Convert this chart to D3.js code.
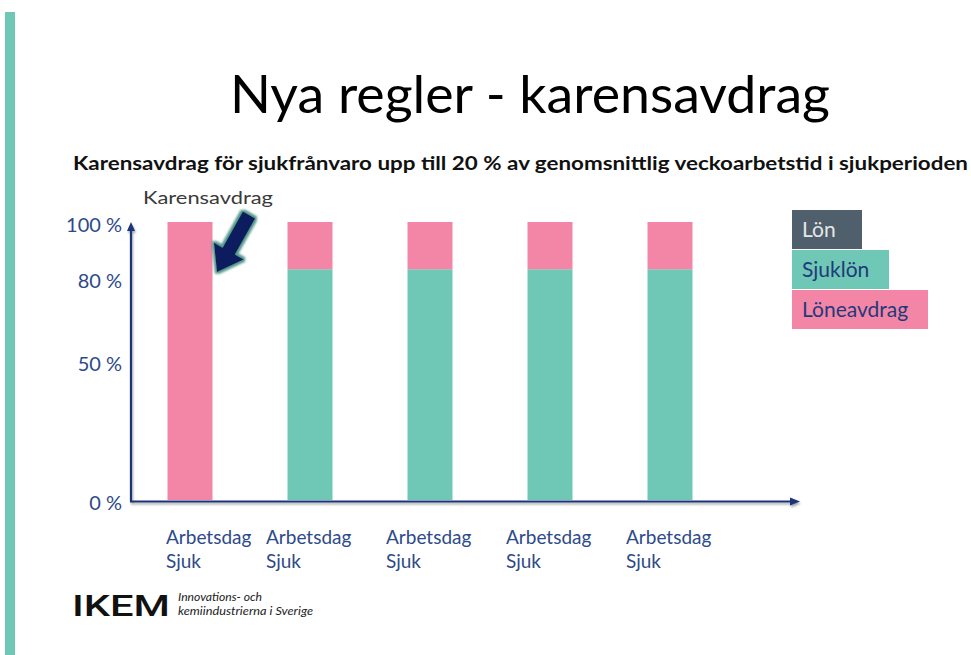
<!DOCTYPE html>
<html><head><meta charset="utf-8">
<script src="https://cdn.jsdelivr.net/npm/d3@7"></script>
<style>body{margin:0;background:#fff}svg{display:block}</style>
</head><body>
<svg id="c" width="971" height="655"></svg>
<script>
// ---- data ----
const days = [1, 2, 3, 4, 5];
const dayLabelLines = ["Arbetsdag", "Sjuk"];
const lon = [0, 0, 0, 0, 0];
const sjuklon = [0, 83, 83, 83, 83];
const loneavdrag = [100, 17, 17, 17, 17];
const yTicks = [0, 50, 80, 100];
const legendLabels = ["Lön", "Sjuklön", "Löneavdrag"];
const seriesColors = ["#4f5f6b", "#6fc8b6", "#f386a7"];
const titleText = "Nya regler - karensavdrag";
const subtitleText = "Karensavdrag för sjukfrånvaro upp till  20 % av genomsnittlig veckoarbetstid i sjukperioden";
const calloutText = "Karensavdrag";

const svg = d3.select("#c");
const font = "Lato, 'Open Sans', sans-serif";
const navy = "#1c3578";
const labelNavy = "#2d4a8a";

// left strip
svg.append("rect").attr("x", 5).attr("y", 12).attr("width", 10).attr("height", 643).attr("fill", "#6fc8b6");

// title
svg.append("text").attr("x", 530).attr("y", 113).attr("text-anchor", "middle")
  .attr("font-family", font).attr("font-size", 52).attr("fill", "#000")
  .attr("textLength", 600).attr("lengthAdjust", "spacingAndGlyphs").text(titleText);

svg.append("text").attr("x", 73).attr("y", 170)
  .attr("font-family", font).attr("font-weight", "bold").attr("font-size", 18).attr("fill", "#111")
  .attr("textLength", 895).attr("lengthAdjust", "spacingAndGlyphs").text(subtitleText);

// scales
const x = d3.scalePoint().domain(days).range([190, 670]);
const y = d3.scaleLinear().domain([0, 100]).range([500, 222]);
const bw = 45;

const defs = svg.append("defs");
const sh = defs.append("filter").attr("id", "sh").attr("x", "-20%").attr("y", "-20%").attr("width", "140%").attr("height", "140%");
sh.append("feGaussianBlur").attr("in", "SourceAlpha").attr("stdDeviation", 1.2).attr("result", "b");
sh.append("feOffset").attr("dx", 1).attr("dy", 1.5).attr("result", "o");
sh.append("feComponentTransfer").append("feFuncA").attr("type", "linear").attr("slope", 0.35);
const m = sh.append("feMerge"); m.append("feMergeNode"); m.append("feMergeNode").attr("in", "SourceGraphic");

const glow = defs.append("filter").attr("id", "glow").attr("x", "-30%").attr("y", "-30%").attr("width", "160%").attr("height", "160%");
glow.append("feMorphology").attr("in", "SourceAlpha").attr("operator", "dilate").attr("radius", 2).attr("result", "d");
glow.append("feGaussianBlur").attr("in", "d").attr("stdDeviation", 1).attr("result", "db");
glow.append("feFlood").attr("flood-color", "#3f8c7c").attr("flood-opacity", 0.9);
glow.append("feComposite").attr("in2", "db").attr("operator", "in").attr("result", "g");
const gm = glow.append("feMerge"); gm.append("feMergeNode").attr("in", "g"); gm.append("feMergeNode").attr("in", "SourceGraphic");

// stacked bars
const rows = days.map((d, i) => ({ day: d, lon: lon[i], sjuklon: sjuklon[i], loneavdrag: loneavdrag[i] }));
const stack = d3.stack().keys(["sjuklon", "lon", "loneavdrag"])(rows);
const colorOf = { lon: seriesColors[0], sjuklon: seriesColors[1], loneavdrag: seriesColors[2] };
svg.append("g").selectAll("g").data(stack).join("g").attr("fill", s => colorOf[s.key])
  .selectAll("rect").data(s => s).join("rect")
  .attr("x", d => x(d.data.day) - bw / 2).attr("width", bw)
  .attr("y", d => y(d[1])).attr("height", d => Math.max(0, y(d[0]) - y(d[1])));

// axes
const axG = svg.append("g").attr("filter", "url(#sh)");
const x0 = 131, yb = y(0) + 1.5;
axG.append("line").attr("x1", x0).attr("y1", yb).attr("x2", x0).attr("y2", 230).attr("stroke", navy).attr("stroke-width", 2.2);
axG.append("path").attr("d", `M${x0},222 L${x0 - 4},231 L${x0 + 4},231 Z`).attr("fill", navy);
axG.append("line").attr("x1", x0 - 1).attr("y1", yb).attr("x2", 791).attr("y2", yb).attr("stroke", navy).attr("stroke-width", 2.2);
axG.append("path").attr("d", `M800,${yb} L790,${yb - 4} L790,${yb + 4} Z`).attr("fill", navy);

// y tick labels
svg.append("g").selectAll("text").data(yTicks).join("text")
  .attr("x", 122).attr("y", d => y(d) + 10).attr("text-anchor", "end")
  .attr("font-family", font).attr("font-size", 20).attr("fill", labelNavy)
  .text(d => d + " %");

// x labels
const xl = svg.append("g").selectAll("text").data(days).join("text")
  .attr("font-family", font).attr("font-size", 19).attr("fill", labelNavy);
xl.each(function (d, i) {
  const t = d3.select(this);
  dayLabelLines.forEach((ln, k) => {
    t.append("tspan").attr("x", x(d) - 44 + (i === 0 ? 20 : 0)).attr("y", 544 + k * 24).text(ln);
  });
});

// callout
svg.append("text").attr("x", 143).attr("y", 204).attr("font-family", font).attr("font-size", 18)
  .attr("fill", "#3a3a3a").attr("textLength", 130).attr("lengthAdjust", "spacingAndGlyphs").text(calloutText);
{
  const T = [217, 272], C = [249, 215];
  const dx = T[0] - C[0], dy = T[1] - C[1], L = Math.hypot(dx, dy);
  const u = [dx / L, dy / L], p = [-u[1], u[0]];
  const H = [T[0] - 24 * u[0], T[1] - 24 * u[1]];
  const pt = (b, s) => [b[0] + s * p[0], b[1] + s * p[1]];
  const pts = [pt(C, 7), pt(H, 7), pt(H, 17), T, pt(H, -17), pt(H, -7), pt(C, -7)];
  svg.append("path").attr("d", "M" + pts.map(q => q.join(",")).join("L") + "Z")
    .attr("fill", "#0b1f5e").attr("filter", "url(#glow)");
}

// legend
const lg = svg.append("g");
const legW = [70, 97, 136];
legendLabels.forEach((lab, i) => {
  lg.append("rect").attr("x", 792).attr("y", 210 + i * 40).attr("width", legW[i]).attr("height", 39)
    .attr("fill", seriesColors[i]);
  lg.append("text").attr("x", 802).attr("y", 237 + i * 40).attr("font-family", font).attr("font-size", 21)
    .attr("fill", i === 0 ? "#e6e6e6" : "#1f3a7a").text(lab);
});

// logo
svg.append("text").attr("x", 72).attr("y", 616).attr("font-family", "Roboto, sans-serif")
  .attr("font-size", 29).attr("font-weight", 500).attr("fill", "#111")
  .attr("textLength", 98).attr("lengthAdjust", "spacingAndGlyphs").text("IKEM");
svg.append("text").attr("x", 178).attr("y", 601).attr("font-family", font).attr("font-style", "italic")
  .attr("font-size", 10.5).attr("fill", "#222").attr("textLength", 84).attr("lengthAdjust", "spacingAndGlyphs")
  .text("Innovations- och");
svg.append("text").attr("x", 178).attr("y", 615).attr("font-family", font).attr("font-style", "italic")
  .attr("font-size", 10.5).attr("fill", "#222").attr("textLength", 135).attr("lengthAdjust", "spacingAndGlyphs")
  .text("kemiindustrierna i Sverige");
</script>
</body></html>
